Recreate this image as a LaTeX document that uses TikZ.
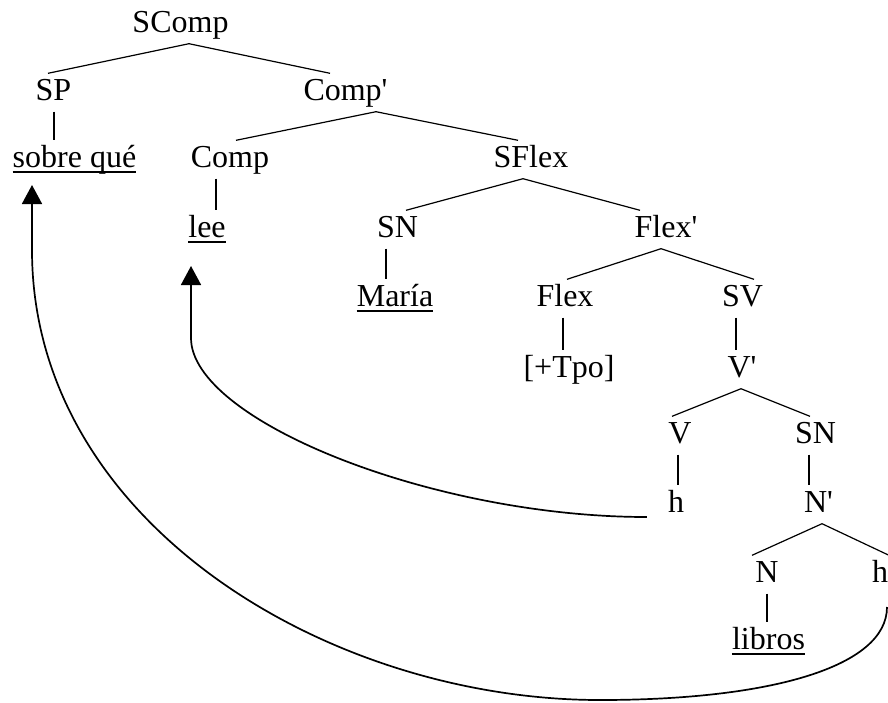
\documentclass[tikz,border=0pt]{standalone}
\usepackage{fontspec}
\setmainfont{Liberation Serif}[Ligatures=TeXOff]
\usetikzlibrary{arrows.meta,calc}
\tikzset{
  lbl/.style={anchor=base, inner sep=0pt, text height=26.5pt, text depth=11.5pt,
              font=\fontsize{32}{38}\selectfont},
  br/.style={line width=1.2pt},
  vt/.style={line width=1.8pt},
  ul/.style={line width=1.5pt},
  mv/.style={line width=1.7pt, -{Triangle[length=19pt,width=20pt]}},
}
\begin{document}
\begin{tikzpicture}[x=1pt,y=-1pt]
\useasboundingbox (0,0) rectangle (888,702);
% nodes
\node[lbl] (scomp) at (180.5,32) {SComp};
\node[lbl] (sp)    at (53.5,100) {SP};
\node[lbl] (compb) at (345.5,100) {Comp'};
\node[lbl] (sq)    at (74.5,167) {sobre qué};
\node[lbl] (comp)  at (230,167) {Comp};
\node[lbl] (sflex) at (531,167) {SFlex};
\node[lbl] (lee)   at (207,237) {lee};
\node[lbl] (sna)   at (397.5,237) {SN};
\node[lbl] (flexb) at (666,237) {Flex'};
\node[lbl] (maria) at (395,306) {María};
\node[lbl] (flex)  at (565,306) {Flex};
\node[lbl] (sv)    at (742.5,306) {SV};
\node[lbl] (tpo)   at (569,377) {[+Tpo]};
\node[lbl] (vb)    at (742,377) {V'};
\node[lbl] (v)     at (680,443) {V};
\node[lbl] (snb)   at (815.5,443) {SN};
\node[lbl] (ha)    at (676,512) {h};
\node[lbl] (nb)    at (818.5,512) {N'};
\node[lbl] (n)     at (767,582) {N};
\node[lbl] (hb)    at (880,582) {h};
\node[lbl] (libros) at (768.5,649) {libros};
% branches
\draw[br] (scomp.south -| 189,0) -- (sp.north -| 48,0);
\draw[br] (scomp.south -| 189,0) -- (compb.north -| 330,0);
\draw[br] (compb.south -| 376,0) -- (comp.north -| 236,0);
\draw[br] (compb.south -| 376,0) -- (sflex.north -| 518,0);
\draw[br] (sflex.south -| 523,0) -- (sna.north -| 406,0);
\draw[br] (sflex.south -| 523,0) -- (flexb.north -| 640,0);
\draw[br] (flexb.south -| 661,0) -- (flex.north -| 567,0);
\draw[br] (flexb.south -| 661,0) -- (sv.north -| 754,0);
\draw[br] (vb.south -| 741,0) -- (v.north -| 672,0);
\draw[br] (vb.south -| 741,0) -- (snb.north -| 810,0);
\draw[br] (nb.south -| 822,0) -- (n.north -| 752,0);
\draw[br] (nb.south -| 822,0) -- (hb.north -| 889,0);
% vertical lines
\draw[vt] (sp.south -| 54,0) -- (sq.north -| 54,0);
\draw[vt] (comp.south -| 216,0) -- (lee.north -| 216,0);
\draw[vt] (sna.south -| 386,0) -- (maria.north -| 386,0);
\draw[vt] (flex.south -| 563,0) -- (tpo.north -| 563,0);
\draw[vt] (sv.south -| 736,0) -- (vb.north -| 736,0);
\draw[vt] (v.south -| 678,0) -- (ha.north -| 678,0);
\draw[vt] (snb.south -| 809,0) -- (nb.north -| 809,0);
\draw[vt] (n.south -| 767,0) -- (libros.north -| 767,0);
% underlines
\draw[ul] ($(sq.base west)+(0,5)$) -- ($(sq.base east)+(0,5)$);
\draw[ul] ($(lee.base west)+(0,5)$) -- ($(lee.base east)+(0,5)$);
\draw[ul] ($(maria.base west)+(0,5)$) -- ($(maria.base east)+(0,5)$);
\draw[ul] ($(libros.base west)+(0,5)$) -- ($(libros.base east)+(0,5)$);
% movement arrows
\draw[mv] ($(ha.base west)+(-21,5)$) .. controls (432,517) and (191,420) .. (191,338)
  -- ($(lee.base)+(-16,29)$);
\draw[mv] ($(hb.base)+(7,25)$) .. controls (887,667) and (770,700) .. (600,700)
  .. controls (328,700) and (32,522) .. (32,250) -- ($(sq.base)+(-42.5,18)$);
\end{tikzpicture}
\end{document}
